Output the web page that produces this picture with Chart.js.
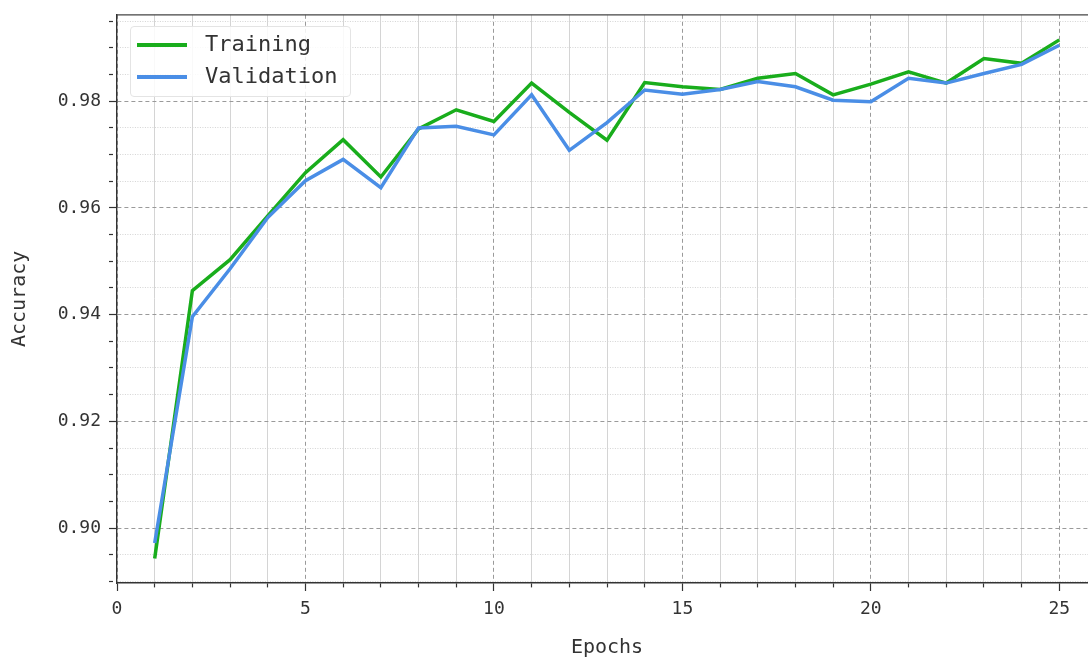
<!DOCTYPE html>
<html>
<head>
<meta charset="utf-8">
<title>Accuracy</title>
<script src="https://cdn.jsdelivr.net/npm/chart.js@4.4.1/dist/chart.umd.min.js"></script>
<style>
html, body { margin: 0; padding: 0; background: #fff; overflow: hidden; }
#wrap { position: relative; width: 1105px; height: 670px; }
#acc-chart { position: absolute; left: 0; top: -4px; }
#acc-legend {
	position: absolute; left: 130px; top: 26px; width: 219px; height: 69px;
	background: rgba(255,255,255,0.85); border: 1px solid #e4e4e4; border-radius: 4px;
	font-family: 'DejaVu Sans Mono', monospace; font-size: 22px; color: #333;
}
.leg-row { position: absolute; left: 0; width: 100%; height: 32px; }
.leg-line { position: absolute; left: 6px; top: 15px; width: 50px; height: 4px; }
.leg-text { position: absolute; left: 74px; top: 0; line-height: 32px; white-space: pre; }
</style>
</head>
<body>
<div id="wrap">
	<canvas id="acc-chart" width="1105" height="670"></canvas>
	<div id="acc-legend"></div>
</div>
<script>
var epochs = [1, 2, 3, 4, 5, 6, 7, 8, 9, 10, 11, 12, 13, 14, 15, 16, 17, 18, 19, 20, 21, 22, 23, 24, 25];
var trainingAcc = [0.8943, 0.9445, 0.9503, 0.9585, 0.9666, 0.9728, 0.9658, 0.9748, 0.9784, 0.9762,
	0.9834, 0.9779, 0.9727, 0.9835, 0.9827, 0.9822, 0.9843, 0.9852, 0.9812, 0.9832,
	0.9855, 0.9834, 0.9880, 0.9871, 0.9915];
var validationAcc = [0.8972, 0.9396, 0.9486, 0.9582, 0.9651, 0.9691, 0.9638, 0.9750, 0.9753, 0.9737,
	0.9812, 0.9708, 0.9760, 0.9821, 0.9813, 0.9822, 0.9837, 0.9827, 0.9802, 0.9799,
	0.9843, 0.9834, 0.9852, 0.9869, 0.9905];
var seriesNames = ['Training', 'Validation'];
var xTickLabels = ['0', '5', '10', '15', '20', '25'];
var yTickLabels = ['0.90', '0.92', '0.94', '0.96', '0.98'];

var fontFamily = "'DejaVu Sans Mono', monospace";
var textColor = '#333';

function toPoints(xs, ys) {
	var pts = [];
	for(var i = 0; i < xs.length; i++) {
		pts.push({x: xs[i], y: ys[i]});
	}
	return pts;
}

function isMajorX(v) {
	return xTickLabels.indexOf(String(v)) >= 0;
}

function isMajorY(v) {
	return yTickLabels.indexOf(v.toFixed(2)) >= 0 && Math.abs(v * 50 - Math.round(v * 50)) < 1e-6;
}

function gridColor(major, c) {
	if(!c.tick) return '#ccc';
	return major(c.tick.value) ? '#9a9a9a' : '#d4d4d4';
}

// html legend, built from the datasets
var htmlLegend = {
	id: 'htmlLegend',
	afterUpdate: function(chart) {
		var box = document.getElementById('acc-legend');
		box.innerHTML = '';
		chart.data.datasets.forEach(function(ds, i) {
			var row = document.createElement('div');
			row.className = 'leg-row';
			row.style.top = (1 + i * 32) + 'px';
			var line = document.createElement('span');
			line.className = 'leg-line';
			line.style.background = ds.borderColor;
			var txt = document.createElement('span');
			txt.className = 'leg-text';
			txt.textContent = ds.label;
			row.appendChild(line);
			row.appendChild(txt);
			box.appendChild(row);
		});
	}
};

var topSpine = {
	id: 'topSpine',
	afterDraw: function(chart) {
		var a = chart.chartArea;
		var ctx = chart.ctx;
		ctx.save();
		ctx.strokeStyle = '#444';
		ctx.lineWidth = 1.2;
		ctx.beginPath();
		ctx.moveTo(a.left, a.top);
		ctx.lineTo(a.right, a.top);
		ctx.stroke();
		ctx.restore();
	}
};

var config = {
	type: 'line',
	data: {
		datasets: [
			{
				label: seriesNames[0],
				data: toPoints(epochs, trainingAcc),
				borderColor: '#19ad1c',
				backgroundColor: '#19ad1c',
				borderWidth: 3.5,
				pointRadius: 0,
				tension: 0,
				order: 1
			},
			{
				label: seriesNames[1],
				data: toPoints(epochs, validationAcc),
				borderColor: '#4a8ee6',
				backgroundColor: '#4a8ee6',
				borderWidth: 3.5,
				pointRadius: 0,
				tension: 0,
				order: 0
			}
		]
	},
	options: {
		responsive: false,
		animation: false,
		layout: { padding: { top: 10, right: 4, left: 0, bottom: 0 } },
		plugins: {
			legend: { display: false },
			tooltip: { enabled: false }
		},
		scales: {
			x: {
				type: 'linear',
				min: 0,
				max: 26,
				afterFit: function(s) { s.height = 83; },
				ticks: {
					stepSize: 1,
					autoSkip: false,
					maxRotation: 0,
					padding: 8,
					color: textColor,
					font: { family: fontFamily, size: 18 },
					callback: function(v) { return isMajorX(v) ? String(v) : ''; }
				},
				grid: {
					color: function(c) { return gridColor(isMajorX, c); },
					lineWidth: 1,
					tickLength: 8,
					tickColor: textColor,
					tickWidth: 1.2,
					tickBorderDash: function(c) { return (c.tick && !isMajorX(c.tick.value)) ? [4, 20] : []; }
				},
				border: {
					color: textColor,
					width: 1.4,
					dash: function(c) { return (c.tick && isMajorX(c.tick.value)) ? [4, 3] : []; }
				},
				title: {
					display: true,
					text: 'Epochs',
					color: textColor,
					font: { family: fontFamily, size: 20 },
					padding: { top: 0, bottom: 6 }
				}
			},
			y: {
				min: 0.8897,
				max: 0.9962,
				afterFit: function(s) { s.width = 117; },
				ticks: {
					stepSize: 0.005,
					includeBounds: false,
					autoSkip: false,
					maxTicksLimit: 100,
					padding: 8,
					color: textColor,
					font: { family: fontFamily, size: 18 },
					callback: function(v) { return isMajorY(v) ? v.toFixed(2) : ''; }
				},
				grid: {
					color: function(c) { return gridColor(isMajorY, c); },
					lineWidth: 1,
					tickLength: 8,
					tickColor: textColor,
					tickWidth: 1.2,
					tickBorderDash: function(c) { return (c.tick && !isMajorY(c.tick.value)) ? [4, 20] : []; }
				},
				border: {
					color: textColor,
					width: 1.4,
					dash: function(c) {
						if(!c.tick) return [];
						return isMajorY(c.tick.value) ? [4, 3] : [1, 1.5];
					}
				},
				title: {
					display: true,
					text: 'Accuracy',
					color: textColor,
					font: { family: fontFamily, size: 20 },
					padding: { top: 8, bottom: 0 }
				}
			}
		}
	},
	plugins: [htmlLegend, topSpine]
};

var myChart = new Chart(document.getElementById('acc-chart'), config);
</script>
</body>
</html>
